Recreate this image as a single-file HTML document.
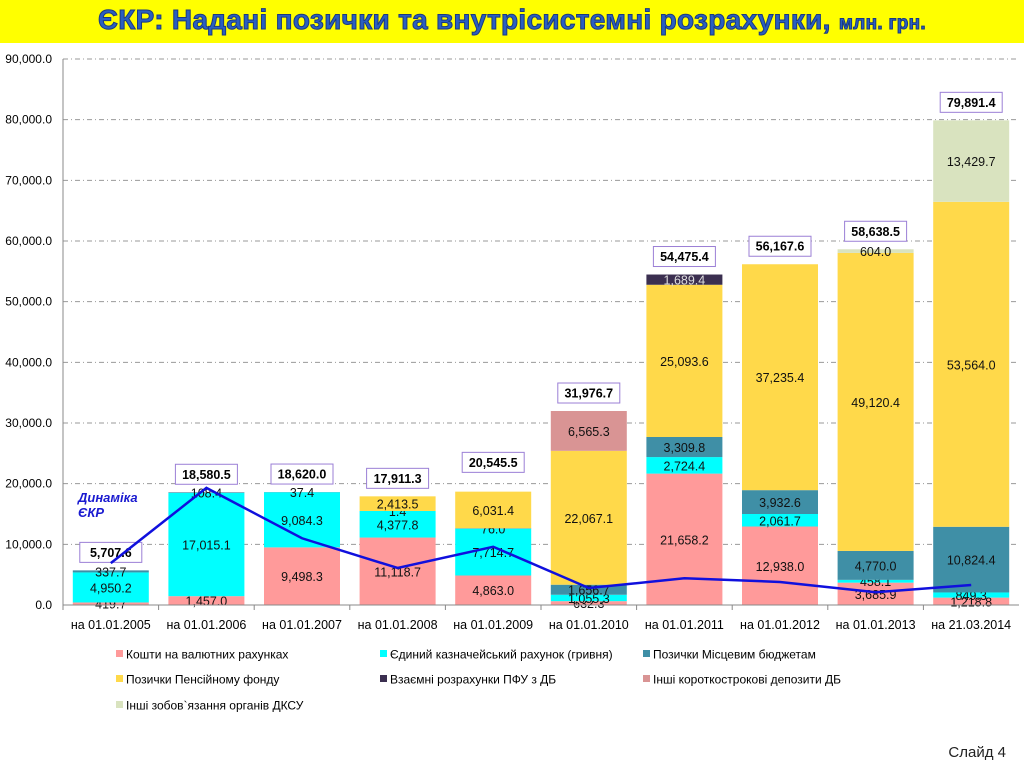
<!DOCTYPE html>
<html><head><meta charset="utf-8">
<style>
body{margin:0;width:1024px;height:768px;background:#fff;overflow:hidden;font-family:"Liberation Sans","DejaVu Sans",sans-serif;}
#title{position:absolute;left:0;top:0;width:1024px;height:43px;background:#ffff00;}
#title div{position:absolute;left:0;width:1024px;top:4px;text-align:center;font-weight:bold;font-size:28px;color:#2a5fc0;-webkit-text-stroke:1px #1a3a80;letter-spacing:0.3px;}
#title span{font-size:19px;}
svg{position:absolute;left:0;top:0;}
#slide{position:absolute;right:18px;top:744px;font-size:15px;color:#222;}
</style></head>
<body>
<div id="title"><div>ЄКР: Надані позички та внутрісистемні розрахунки, <span>млн. грн.</span></div></div>
<svg id="chart" width="1024" height="768"></svg>
<div id="slide">Слайд 4</div>
<script>
const categories=["на 01.01.2005","на 01.01.2006","на 01.01.2007","на 01.01.2008","на 01.01.2009","на 01.01.2010","на 01.01.2011","на 01.01.2012","на 01.01.2013","на 21.03.2014"];
const seriesNames=["Кошти на валютних рахунках","Єдиний казначейський рахунок  (гривня)","Позички Місцевим бюджетам","Позички Пенсійному фонду","Взаємні розрахунки ПФУ з ДБ","Інші короткострокові депозити ДБ","Інші зобов`язання органів ДКСУ"];
const currency=[419.7,1457.0,9498.3,11118.7,4863.0,632.3,21658.2,12938.0,3685.9,1218.8];
const treasury=[4950.2,17015.1,9084.3,4377.8,7714.7,1055.3,2724.4,2061.7,458.1,849.3];
const localLoans=[337.7,108.4,37.4,1.4,76.0,1656.7,3309.8,3932.6,4770.0,10824.4];
const pensionLoans=[0,0,0,2413.5,6031.4,22067.1,25093.6,37235.4,49120.4,53564.0];
const pfuSettlements=[0,0,0,0,0,0,1689.4,0,0,0];
const otherDeposits=[0,0,0,0,0,6565.3,0,0,0,0];
const otherLiabilities=[0,0,0,0,0,0,0,0,604.0,13429.7];
const totals=[5707.6,18580.5,18620.0,17911.3,20545.5,31976.7,54475.4,56167.6,58638.5,79891.4];
const dynamics=[6900,19300,11000,6100,9600,2800,4400,3800,2100,3300];
const yTicks=[0,10000,20000,30000,40000,50000,60000,70000,80000,90000];

const series=[currency,treasury,localLoans,pensionLoans,pfuSettlements,otherDeposits,otherLiabilities];
const colors=["#ff9a9a","#00ffff","#3f8fa6","#ffd94a","#3b2f50","#d99494","#d9e3bf"];
const svg=document.getElementById('chart');
const NS="http://www.w3.org/2000/svg";
const X0=63,X1=1019,Y0=605,Y1=59,YMAX=90000;
const step=(X1-X0)/categories.length,bw=76;
const y=v=>Y0-(v/YMAX)*(Y0-Y1);
const xc=i=>X0+(i+0.5)*step;
function mk(t,a){const e=document.createElementNS(NS,t);for(const k in a)e.setAttribute(k,a[k]);svg.appendChild(e);return e;}
function fmt(v){return v.toLocaleString('en-US',{minimumFractionDigits:1,maximumFractionDigits:1});}

yTicks.forEach(t=>{
  if(t>0){const g=mk('line',{x1:X0,x2:X1,y1:y(t),y2:y(t),stroke:'#9a9a9a','stroke-dasharray':'5,3,1,3'});
  
  }
  const l=mk('text',{x:52,y:y(t)+4,'text-anchor':'end','font-size':12,fill:'#000'});
  l.textContent=fmt(t);
  
  
});
const ax=mk('line',{x1:X0,x2:X0,y1:Y1,y2:Y0,stroke:'#888'});



categories.forEach((c,i)=>{
  let base=0;
  series.forEach((s,k)=>{
    const v=s[i]; if(!v) return;
    const r=mk('rect',{x:xc(i)-bw/2,y:y(base+v),width:bw,height:y(base)-y(base+v),fill:colors[k]});
    
    
    const t=mk('text',{x:xc(i),y:(y(base)+y(base+v))/2+5,'text-anchor':'middle','font-size':12.5,fill:k===4?'#ddd':'#111'});
    t.textContent=fmt(v);
    
    
    base+=v;
  });
  const ty=y(totals[i])-18;
  const b=mk('rect',{x:xc(i)-31,y:ty-10,width:62,height:20,fill:'#fff',stroke:'#9b7fd6'});
  
  
  const tt=mk('text',{x:xc(i),y:ty+4.5,'text-anchor':'middle','font-size':12.5,'font-weight':'bold',fill:'#000'});
  tt.textContent=fmt(totals[i]);
  
  
  const cl=mk('text',{x:xc(i),y:629,'text-anchor':'middle','font-size':12.5,fill:'#000'});
  cl.textContent=c;
  
  
  const tk=mk('line',{x1:X0+i*step,x2:X0+i*step,y1:Y0,y2:Y0+5,stroke:'#888'});
  
  
});
const xa=mk('line',{x1:X0,x2:X1,y1:Y0,y2:Y0,stroke:'#888'});



const pl=mk('polyline',{points:dynamics.map((v,i)=>xc(i)+','+y(v)).join(' '),fill:'none',stroke:'#1010dd','stroke-width':2.5});


[['Динаміка',502],['ЄКР',517]].forEach(([s,yy])=>{
  const t=mk('text',{x:78,y:yy,'font-size':13,'font-style':'italic','font-weight':'bold',fill:'#1a1ad0'});
  t.textContent=s;
  
  
});

const legX=[123,387,650],legY=[654,679,705];
seriesNames.forEach((n,k)=>{
  const lx=legX[k%3],ly=legY[Math.floor(k/3)];
  const m=mk('rect',{x:lx-7,y:ly-4,width:7,height:7,fill:colors[k]});
  
  
  const t=mk('text',{x:lx+3,y:ly+4.5,'font-size':12,fill:'#000'});
  t.textContent=n;
  
  
});
</script>
</body></html>
